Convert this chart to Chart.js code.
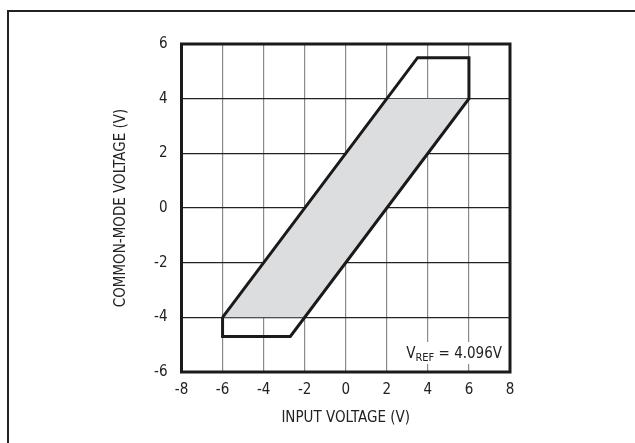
<!DOCTYPE html>
<html>
<head>
<meta charset="utf-8">
<script src="https://cdn.jsdelivr.net/npm/chart.js"></script>
<style>
  html, body { margin: 0; padding: 0; background: #fff; }
  #wrap { position: relative; width: 635px; height: 443px; overflow: hidden; }
  #frame { position: absolute; left: 7px; top: 10px; width: 640px; height: 450px;
           border-top: 2px solid #222; border-left: 2px solid #222; }
  #c { position: absolute; left: 0; top: 0; }
</style>
</head>
<body>
<div id="wrap">
  <div id="frame"></div>
  <canvas id="c" width="635" height="443"></canvas>
</div>
<script>
const FONT = '"Liberation Sans Narrow", "DejaVu Sans Condensed", "Roboto Condensed", sans-serif';

// axis ranges / ticks
const xTicks = [-8, -6, -4, -2, 0, 2, 4, 6, 8];
const yTicks = [-6, -4, -2, 0, 2, 4, 6];

// boundary of the allowed region (input voltage, common-mode voltage)
const boundX = [-6, -6, -2.7, 6, 6, 3.5, -6];
const boundY = [-4, -4.7, -4.7, 4, 5.5, 5.5, -4];

// shaded region
const shadeX = [-6, -2, 6, 2, -6];
const shadeY = [-4, -4, 4, 4, -4];

const vref = '4.096V';

const toPts = (xs, ys) => xs.map((x, i) => ({ x, y: ys[i] }));

const overlay = {
  id: 'overlay',
  afterDatasetsDraw(chart) {
    const { ctx, chartArea: a } = chart;
    // VREF label with white box
    ctx.save();
    ctx.font = '15px ' + FONT;
    const main = 'V';
    ctx.font = '15px ' + FONT;
    const wV = ctx.measureText(main).width;
    ctx.font = '11px ' + FONT;
    const wSub = ctx.measureText('REF').width;
    ctx.font = '15px ' + FONT;
    const rest = ' = ' + vref;
    const wRest = ctx.measureText(rest).width;
    const total = wV + wSub + wRest;
    const xEnd = a.right - 8;
    const xs = xEnd - total;
    const base = 358;
    ctx.fillStyle = '#fff';
    ctx.fillRect(xs - 5, base - 16, total + 10, 22);
    ctx.fillStyle = '#222';
    ctx.textBaseline = 'alphabetic';
    ctx.textAlign = 'left';
    ctx.fillText(main, xs, base);
    ctx.font = '11px ' + FONT;
    ctx.fillText('REF', xs + wV, base + 3);
    ctx.font = '15px ' + FONT;
    ctx.fillText(rest, xs + wV + wSub, base);
    ctx.restore();
  },
  afterDraw(chart) {
    const { ctx, chartArea: a } = chart;
    ctx.save();
    ctx.strokeStyle = '#1a1a1a';
    ctx.lineWidth = 3;
    ctx.strokeRect(a.left, a.top, a.right - a.left, a.bottom - a.top);
    ctx.restore();
  }
};

new Chart(document.getElementById('c'), {
  type: 'scatter',
  data: {
    datasets: [
      {
        data: toPts(shadeX, shadeY),
        showLine: true,
        borderWidth: 0,
        borderColor: 'rgba(0,0,0,0)',
        backgroundColor: '#dcdddf',
        fill: 'shape',
        pointRadius: 0,
        order: 2
      },
      {
        data: toPts(boundX, boundY),
        showLine: true,
        borderWidth: 3,
        borderColor: '#1a1a1a',
        fill: false,
        pointRadius: 0,
        borderJoinStyle: 'miter',
        order: 1
      }
    ]
  },
  options: {
    responsive: false,
    animation: false,
    events: [],
    layout: { padding: { left: 112, top: 44, right: 125, bottom: 16 } },
    plugins: { legend: { display: false }, tooltip: { enabled: false } },
    scales: {
      x: {
        type: 'linear', min: -8, max: 8,
        afterBuildTicks: s => { s.ticks = xTicks.map(v => ({ value: v })); },
        afterFit: s => { s.height = 443 - 16 - 372; },
        grid: { color: '#8a8a8a', lineWidth: 1.2, drawTicks: false },
        border: { display: false },
        ticks: { color: '#222', font: { family: FONT, size: 15 }, padding: 9 },
        title: { display: true, text: 'INPUT VOLTAGE (V)', color: '#222',
                 font: { family: FONT, size: 15 }, padding: 0 }
      },
      y: {
        type: 'linear', min: -6, max: 6,
        afterBuildTicks: s => { s.ticks = yTicks.map(v => ({ value: v })); },
        afterFit: s => { s.width = 181.5 - 112; },
        grid: { color: '#222', lineWidth: 1.2, drawTicks: false },
        border: { display: false },
        ticks: { color: '#222', font: { family: FONT, size: 15 }, padding: 14 },
        title: { display: true, text: 'COMMON-MODE VOLTAGE (V)', color: '#222',
                 font: { family: FONT, size: 15 }, padding: 0 }
      }
    }
  },
  plugins: [overlay]
});
</script>
</body>
</html>
